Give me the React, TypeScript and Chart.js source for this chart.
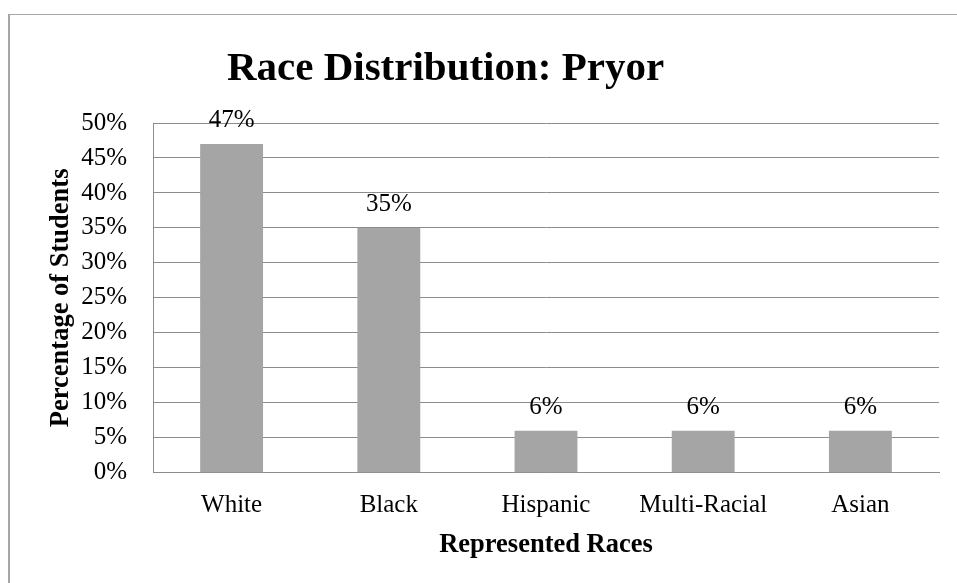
import React, { useEffect, useRef } from "react";
import { Chart, registerables } from "chart.js";

Chart.register(...registerables);

const categories = ["White", "Black", "Hispanic", "Multi-Racial", "Asian"];
const percentages = [47, 35, 6, 6, 6];
const chartTitle = "Race Distribution: Pryor";
const xAxisTitle = "Represented Races";
const yAxisTitle = "Percentage of Students";
const yMin = 0;
const yMax = 50;
const yStep = 5;

const SERIF = '"Liberation Serif", "Times New Roman", Times, serif';
const BAR_COLOR = "#a5a5a5";
const GRID_COLOR = "#8c8c8c";
const FRAME_COLOR = "#a6a6a6";

const CANVAS_W = 947;
const CANVAS_H = 568;

// Chart title, drawn above the plot area.
const titlePlugin = {
  id: "chartTitleText",
  afterDraw(chart: any) {
    const { ctx } = chart;
    ctx.save();
    ctx.font = `bold 41px ${SERIF}`;
    ctx.fillStyle = "#000";
    ctx.textAlign = "center";
    ctx.textBaseline = "alphabetic";
    ctx.fillText(chartTitle, 435.5, 65);
    ctx.restore();
  },
};

// Value labels above each bar.
const valueLabelPlugin = {
  id: "barValueLabels",
  afterDatasetsDraw(chart: any) {
    const { ctx } = chart;
    const meta = chart.getDatasetMeta(0);
    const values = chart.data.datasets[0].data as number[];
    ctx.save();
    ctx.font = `25px ${SERIF}`;
    ctx.fillStyle = "#000";
    ctx.textAlign = "center";
    ctx.textBaseline = "alphabetic";
    meta.data.forEach((bar: any, i: number) => {
      ctx.fillText(`${values[i]}%`, bar.x, bar.y - 17);
    });
    ctx.restore();
  },
};

export default function App() {
  const canvasRef = useRef<HTMLCanvasElement | null>(null);

  useEffect(() => {
    document.body.style.overflow = "hidden";
    const canvas = canvasRef.current;
    if (!canvas) return;
    const chart = new Chart(canvas, {
      type: "bar",
      data: {
        labels: categories,
        datasets: [
          {
            data: percentages,
            backgroundColor: BAR_COLOR,
            borderWidth: 0,
            barPercentage: 0.4,
            categoryPercentage: 1,
          },
        ],
      },
      plugins: [titlePlugin, valueLabelPlugin],
      options: {
        responsive: false,
        animation: false,
        devicePixelRatio: 1,
        layout: { padding: { top: 108, right: 18, bottom: 0, left: 0 } },
        plugins: {
          legend: { display: false },
          tooltip: { enabled: false },
          title: { display: false },
        },
        scales: {
          x: {
            grid: { display: false, drawTicks: false },
            border: { display: true, color: GRID_COLOR, width: 1 },
            ticks: {
              color: "#000",
              font: { family: SERIF, size: 25 },
              padding: 18,
              maxRotation: 0,
            },
            title: {
              display: true,
              text: xAxisTitle,
              color: "#000",
              font: { family: SERIF, size: 26.5, weight: "bold" },
              padding: { top: 0, bottom: 21.5 },
            },
            afterFit(scale: any) {
              scale.height = 110.3;
            },
          },
          y: {
            min: yMin,
            max: yMax,
            grid: { color: GRID_COLOR, lineWidth: 1, drawTicks: false },
            border: { display: true, color: GRID_COLOR, width: 1 },
            ticks: {
              stepSize: yStep,
              color: "#000",
              font: { family: SERIF, size: 25 },
              padding: 26,
              callback: (v: any) => `${v}%`,
            },
            title: {
              display: true,
              text: yAxisTitle,
              color: "#000",
              font: { family: SERIF, size: 26.5, weight: "bold" },
              padding: { top: 35.5, bottom: 0 },
            },
            afterFit(scale: any) {
              scale.width = 143;
            },
          },
        },
      },
    });
    return () => chart.destroy();
  }, []);

  return (
    <div
      style={{
        position: "absolute",
        left: 8,
        top: 14,
        borderTop: `1px solid ${FRAME_COLOR}`,
        borderLeft: `2px solid ${FRAME_COLOR}`,
        width: CANVAS_W,
        height: CANVAS_H,
        background: "#fff",
      }}
    >
      <canvas
        ref={canvasRef}
        width={CANVAS_W}
        height={CANVAS_H}
        style={{ display: "block", width: CANVAS_W, height: CANVAS_H }}
      />
    </div>
  );
}
